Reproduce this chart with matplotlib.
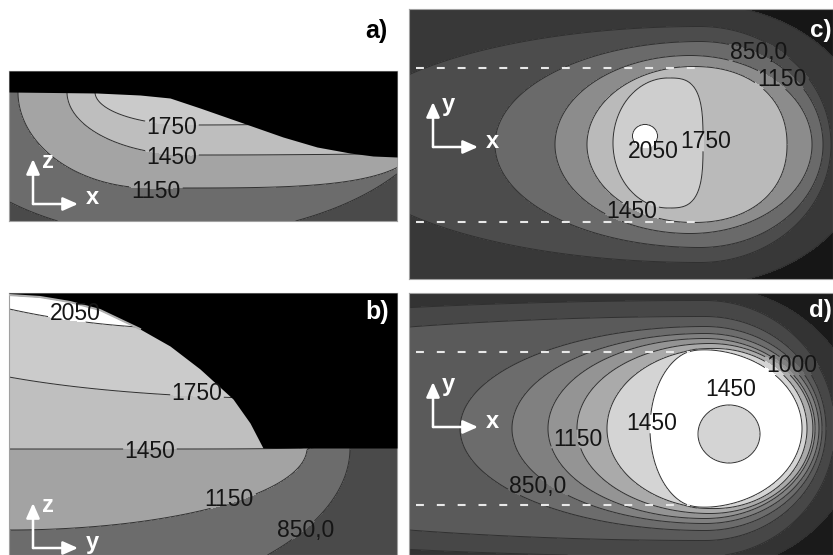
import numpy as np
import matplotlib
matplotlib.use('Agg')
import matplotlib.pyplot as plt

plt.rcParams['font.family'] = ['Liberation Sans', 'DejaVu Sans']

W, H = 833, 555

# panel boxes in picture pixels: left, right, top, bottom
box_a = (9, 397, 71, 221)
box_b = (9, 397, 293, 555)
box_c = (409, 833, 9, 279)
box_d = (409, 833, 293, 555)

# ---- a) x-z section: isotherm shapes (centre, half axes left/right/up/down, exponents)
a_temps = [850, 1150, 1450, 1750]
a_cx = [170, 150, 190, 190]
a_cy = [92, 92, 92, 92]
a_left = [246, 132, 123, 95]
a_right = [275, 279, 1000, 400]
a_up = [60, 60, 60, 60]
a_down = [145, 96, 63, 33]
a_pl = [2, 2, 2, 2]
a_pr = [2, 4, 2, 2]
a_colors = ['#4a4a4a', '#6c6c6c', '#a4a4a4', '#bebebe', '#cacaca']
a_surf_x = [9, 97, 140, 170, 200, 243, 283, 317, 350, 373, 397]
a_surf_y = [92, 93, 95, 98, 108, 123, 137, 147, 153, 156, 157]
a_labels = ['1750', '1450', '1150']
a_lab_x = [172, 172, 156]
a_lab_y = [127, 157, 192]

# ---- b) y-z section
b_temps = [850, 1150, 1450, 1750, 2050]
b_cx = [9, 9, 9, 300, 200]
b_cy = [448, 448, 349, 330, 150]
b_left = [100, 100, 100, 400, 415]
b_right = [341, 298, 400, 400, 415]
b_up = [300, 300, 300, 400, 300]
b_down = [164, 82, 100, 68.5, 179]
b_pl = [2, 2, 8, 2, 2]
b_pr = [2, 2, 8, 2, 2]
b_colors = ['#4a4a4a', '#6c6c6c', '#a3a3a3', '#bfbfbf', '#cbcbcb', '#ffffff']
b_surf_x = [9, 40, 70, 100, 140, 170, 200, 233, 250, 263, 397]
b_surf_y = [295, 297, 302, 310, 329, 346, 369, 399, 423, 448, 448]
b_labels = ['2050', '1750', '1450', '1150', '850,0']
b_lab_x = [75, 197, 150, 229, 306]
b_lab_y = [313, 394, 451, 499, 530]

# ---- c) top view, x-y
c_temps = [250, 550, 850, 1150, 1450, 1750, 2050]
c_cx = [700, 700, 700, 690, 693, 668, 645]
c_cy = [144.5, 144.5, 144.5, 144.5, 144.5, 143, 136]
c_left = [2000, 361, 205, 135, 106, 55, 12.5]
c_right = [170, 131, 123, 122, 94, 35, 12.5]
c_up = [140, 118, 103, 89, 78, 65, 11.5]
c_down = [140, 118, 103, 89, 78, 65, 11.5]
c_pl = [2, 2, 2, 2, 2, 2, 2]
c_pr = [2, 2, 2, 2, 2.2, 3.2, 2]
c_colors = ['#161616', '#383838', '#4c4c4c', '#6a6a6a', '#8c8c8c',
            '#bababa', '#cecece', '#ffffff']
c_labels = ['850,0', '1150', '1450', '2050', '1750']
c_lab_x = [759, 782, 632, 653, 706]
c_lab_y = [52, 80, 212, 152, 142]
c_dash_x = [416, 697]
c_dash_y = [68, 222]

# ---- d) top view, x-y (last shape is the cooler spot inside the pool)
d_temps = [250, 400, 550, 700, 850, 1000, 1150, 1300, 1450, 1450]
d_sign = [1, 1, 1, 1, 1, 1, 1, 1, 1, -1]
d_cx = [705, 705, 705, 705, 705, 705, 710, 715, 700, 729]
d_cy = [428.5] * 9 + [434]
d_left = [2000, 900, 700, 245, 193, 157, 133, 108, 50, 31]
d_right = [155, 130, 121, 117, 114, 110, 103, 92, 102, 31]
d_up = [142, 128, 112, 102, 95, 90, 85, 80, 79, 29]
d_down = [142, 128, 112, 102, 95, 90, 85, 80, 79, 29]
d_pl = [2] * 10
d_pr = [2] * 10
d_colors = ['#1a1a1a', '#333333', '#474747', '#5a5a5a', '#6c6c6c', '#808080',
            '#949494', '#aaaaaa', '#d4d4d4', '#ffffff']
d_labels = ['1000', '1450', '1450', '1150', '850,0']
d_lab_x = [792, 731, 652, 578, 538]
d_lab_y = [366, 390, 424, 439, 486]
d_dash_x = [416, 690]
d_dash_y = [352, 505]

# white axis triads: origin, arrow length, letters
tri_orig = {'a': (33, 204), 'b': (33, 548), 'c': (433, 147), 'd': (433, 427)}
tri_len = 45
tri_names = {'a': ('z', 'x'), 'b': ('z', 'y'), 'c': ('y', 'x'), 'd': ('y', 'x')}


def make_ax(box):
    l, r, t, b = box
    ax = fig.add_axes([l / W, 1 - b / H, (r - l) / W, (b - t) / H])
    ax.set_xlim(l, r)
    ax.set_ylim(b, t)
    ax.set_xticks([])
    ax.set_yticks([])
    for s in ax.spines.values():
        s.set_color('#a0a0a0')
        s.set_linewidth(0.8)
    return ax


def temp_field(box, cx, cy, left, right, up, down, pl, pr, sign=None):
    l, r, t, b = box
    x = np.linspace(l, r, int(r - l) * 2)
    y = np.linspace(t, b, int(b - t) * 2)
    X, Y = np.meshgrid(x, y)
    f = np.zeros_like(X)
    for k in range(len(cx)):
        a = np.where(X < cx[k], left[k], right[k])
        bb = np.where(Y < cy[k], up[k], down[k])
        p = np.where(X < cx[k], pl[k], pr[k])
        rho = ((np.abs(X - cx[k]) / a) ** p + (np.abs(Y - cy[k]) / bb) ** p) ** (1 / p)
        s = 1 if sign is None else sign[k]
        f += s * 0.5 * (1 + np.tanh((1 - rho) / 0.012))
    return X, Y, f


def draw_panel(ax, X, Y, f, colors, labels, lx, ly):
    n = len(colors)
    ax.contourf(X, Y, f, levels=np.arange(-0.5, n), colors=colors, zorder=1)
    fl = np.ma.array(f)
    for txt, x0, y0 in zip(labels, lx, ly):
        w = 12.8 * sum(0.5 if ch == ',' else 1 for ch in txt)
        m = (np.abs(X - x0) < w / 2 + 1) & (np.abs(Y - y0) < 9)
        fl[m] = np.ma.masked
    ax.contour(X, Y, fl, levels=np.arange(0.5, n - 1), colors='#303030',
               linewidths=0.7, zorder=2)
    for txt, x0, y0 in zip(labels, lx, ly):
        ax.text(x0, y0, txt, fontsize=16.5, color='#151515', ha='center',
                va='center', zorder=6)


def triad(ax, key):
    ox, oy = tri_orig[key]
    up_name, right_name = tri_names[key]
    kw = dict(arrowstyle='-|>,head_length=0.9,head_width=0.4', color='white',
              lw=1.8, shrinkA=0, shrinkB=0)
    ax.annotate('', xy=(ox, oy - tri_len), xytext=(ox, oy), arrowprops=kw, zorder=7)
    ax.annotate('', xy=(ox + tri_len, oy), xytext=(ox, oy), arrowprops=kw, zorder=7)
    ax.text(ox + 9, oy - tri_len + 2, up_name, color='white', fontsize=17,
            fontweight='bold', ha='left', va='center', zorder=7)
    ax.text(ox + tri_len + 8, oy - 6, right_name, color='white', fontsize=17,
            fontweight='bold', ha='left', va='center', zorder=7)


fig = plt.figure(figsize=(W / 100, H / 100), dpi=100)

# a)
ax = make_ax(box_a)
X, Y, f = temp_field(box_a, a_cx, a_cy, a_left, a_right, a_up, a_down, a_pl, a_pr)
draw_panel(ax, X, Y, f, a_colors, a_labels, a_lab_x, a_lab_y)
ax.fill_between(a_surf_x, a_surf_y, box_a[2], color='black', lw=0, zorder=4)
triad(ax, 'a')
fig.text(376 / W, 1 - 31 / H, 'a)', fontsize=18, fontweight='bold',
         ha='center', va='center')

# b)
ax = make_ax(box_b)
X, Y, f = temp_field(box_b, b_cx, b_cy, b_left, b_right, b_up, b_down, b_pl, b_pr)
draw_panel(ax, X, Y, f, b_colors, b_labels, b_lab_x, b_lab_y)
ax.fill_between(b_surf_x, b_surf_y, box_b[2], color='black', lw=0, zorder=4)
ax.plot(b_surf_x[:5], b_surf_y[:5], color='#b0b0b0', lw=1.5, zorder=4)
triad(ax, 'b')
ax.text(377, 312, 'b)', color='white', fontsize=18, fontweight='bold',
        ha='center', va='center', zorder=7)

# c)
ax = make_ax(box_c)
X, Y, f = temp_field(box_c, c_cx, c_cy, c_left, c_right, c_up, c_down, c_pl, c_pr)
draw_panel(ax, X, Y, f, c_colors, c_labels, c_lab_x, c_lab_y)
for yy in c_dash_y:
    ax.plot(c_dash_x, [yy, yy], color='#e8e8e8', lw=1.5, dashes=(3.8, 6.2), zorder=3)
triad(ax, 'c')
ax.text(810, 30, 'c)', color='white', fontsize=17.5, fontweight='bold',
        ha='left', va='center', zorder=7)

# d)
ax = make_ax(box_d)
X, Y, f = temp_field(box_d, d_cx, d_cy, d_left, d_right, d_up, d_down, d_pl, d_pr, d_sign)
draw_panel(ax, X, Y, f, d_colors, d_labels, d_lab_x, d_lab_y)
for yy in d_dash_y:
    ax.plot(d_dash_x, [yy, yy], color='#e8e8e8', lw=1.5, dashes=(3.8, 6.2), zorder=3)
triad(ax, 'd')
ax.text(809, 311, 'd)', color='white', fontsize=17.5, fontweight='bold',
        ha='left', va='center', zorder=7)

fig.savefig('out.png', dpi=100)
